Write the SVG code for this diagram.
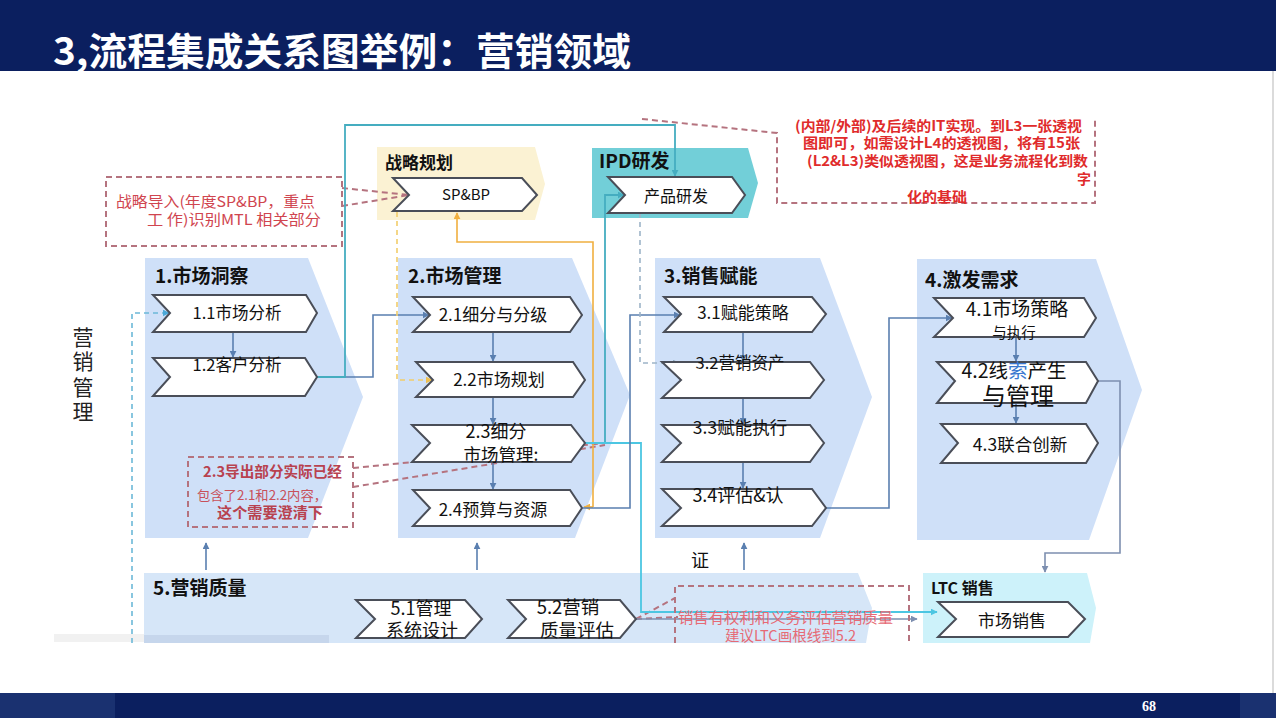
<svg xmlns="http://www.w3.org/2000/svg" width="1276" height="718" viewBox="0 0 1276 718">
<style>
text{font-family:"Noto Sans CJK SC","Liberation Sans",sans-serif}
.chev{fill:#fff;stroke:#4a4e58;stroke-width:2;stroke-linejoin:miter}
.sec{fill:#cfe0f8}
.h{font-weight:700;font-size:19px;fill:#111}
.n{font-size:17px;fill:#111;text-anchor:middle}
.bl{stroke:#5a7fb0;stroke-width:1.6;fill:none}
.teal{stroke:#45adc0;stroke-width:1.8;fill:none}
.cyan{stroke:#4cc6e2;stroke-width:1.8;fill:none}
.org{stroke:#f0b040;stroke-width:1.6;fill:none}
.ylw{stroke:#f2cd6a;stroke-width:1.6;fill:none;stroke-dasharray:5 4}
.gd{stroke:#9db4c8;stroke-width:1.6;fill:none;stroke-dasharray:5 4}
.ld{stroke:#6cb8d8;stroke-width:1.6;fill:none;stroke-dasharray:5 4}
.rd{stroke:#b5737f;stroke-width:2;fill:none;stroke-dasharray:6 4}
.r1{fill:#e02b2b;font-weight:700;font-size:14px}
.r2{fill:#d0454f;font-size:14.5px}
.r3{fill:#b8424f;font-size:14.5px}
.r4{fill:#e66a75;font-size:14.5px}
</style>
<defs>
<marker id="aB" viewBox="0 0 10 10" refX="9" refY="5" markerWidth="7" markerHeight="7" markerUnits="userSpaceOnUse" orient="auto"><path d="M0,0 L10,5 L0,10 z" fill="#5a7fb0"/></marker>
<marker id="aT" viewBox="0 0 10 10" refX="9" refY="5" markerWidth="7" markerHeight="7" markerUnits="userSpaceOnUse" orient="auto"><path d="M0,0 L10,5 L0,10 z" fill="#45adc0"/></marker>
<marker id="aC" viewBox="0 0 10 10" refX="9" refY="5" markerWidth="7" markerHeight="7" markerUnits="userSpaceOnUse" orient="auto"><path d="M0,0 L10,5 L0,10 z" fill="#4cc6e2"/></marker>
<marker id="aO" viewBox="0 0 10 10" refX="9" refY="5" markerWidth="7" markerHeight="7" markerUnits="userSpaceOnUse" orient="auto"><path d="M0,0 L10,5 L0,10 z" fill="#f0b040"/></marker>
<marker id="aY" viewBox="0 0 10 10" refX="9" refY="5" markerWidth="7" markerHeight="7" markerUnits="userSpaceOnUse" orient="auto"><path d="M0,0 L10,5 L0,10 z" fill="#f0c050"/></marker>
<marker id="aG" viewBox="0 0 10 10" refX="9" refY="5" markerWidth="7" markerHeight="7" markerUnits="userSpaceOnUse" orient="auto"><path d="M0,0 L10,5 L0,10 z" fill="#8fa8c0"/></marker>
<marker id="aL" viewBox="0 0 10 10" refX="9" refY="5" markerWidth="7" markerHeight="7" markerUnits="userSpaceOnUse" orient="auto"><path d="M0,0 L10,5 L0,10 z" fill="#4aa8d8"/></marker>
<marker id="aS" viewBox="0 0 10 10" refX="9" refY="5" markerWidth="7" markerHeight="7" markerUnits="userSpaceOnUse" orient="auto"><path d="M0,0 L10,5 L0,10 z" fill="#7d8fb0"/></marker>
</defs>

<rect x="0" y="0" width="1276" height="718" fill="#fff"/>

<g id="frame">
<rect x="0" y="0" width="1276" height="71" fill="#0b1f5f"/>
<text x="53" y="65" font-size="38" font-weight="700" fill="#fff" textLength="578" lengthAdjust="spacingAndGlyphs">3,流程集成关系图举例：营销领域</text>
<line x1="1273" y1="71" x2="1273" y2="693" stroke="#cfcfcf" stroke-width="1.5"/>
<rect x="54" y="634" width="91" height="8" fill="#f1f1f1"/>
<rect x="0" y="693" width="1276" height="25" fill="#0b1f5f"/>
<rect x="0" y="693" width="115" height="25" fill="#1a3170"/>
<rect x="1240" y="693" width="36" height="25" fill="#1a3170"/>
<text x="1149" y="711" style="font-family:'Liberation Serif',serif" font-size="14" font-weight="700" fill="#fff" text-anchor="middle">68</text>
</g>

<g id="bg-strategy"><polygon points="377,147 535,147 545,184 535,220 377,220" fill="#fbf2d3"/><text class="h" x="385" y="169" style="font-size:17px">战略规划</text></g>
<g id="bg-ipd"><polygon points="592,148 748,148 758,183 748,218 592,218" fill="#72cfd8"/><text class="h" x="599" y="168">IPD研发</text></g>
<g id="bg-1"><polygon class="sec" points="145,258 308,258 363,397 308,538 145,538"/><text class="h" x="155" y="283">1.市场洞察</text></g>
<g id="bg-2"><polygon class="sec" points="398,258 572,258 630,395 575,538 398,538"/><text class="h" x="408" y="283">2.市场管理</text></g>
<g id="bg-3"><polygon class="sec" points="655,258 820,258 872,397 820,538 655,538"/><text class="h" x="664" y="283">3.销售赋能</text></g>
<g id="bg-4"><polygon class="sec" points="917,259 1096,259 1142,390 1089,540 917,540"/><text class="h" x="925" y="287">4.激发需求</text></g>
<g id="bg-5"><polygon points="144,573 858,573 872,608 866,643 144,643" fill="#d6e6f8"/><rect x="144" y="635" width="185" height="8" fill="#c6d6ec"/><text class="h" x="153" y="595">5.营销质量</text></g>
<g id="bg-ltc"><polygon points="923,573 1087,573 1096,608 1090,643 923,643" fill="#cdf2fa"/><text class="h" x="931" y="594" style="font-size:16px">LTC 销售</text></g>

<g id="side-label" fill="#222">
<text x="83" y="345" font-size="21" text-anchor="middle">营</text>
<text x="83" y="369" font-size="21" text-anchor="middle">销</text>
<text x="83" y="395" font-size="21" text-anchor="middle">管</text>
<text x="83" y="419" font-size="21" text-anchor="middle">理</text>
</g>

<g id="connectors">
<path class="rd" d="M353,468 L605,443"/>
<path class="rd" d="M353,487 L605,445"/>
<path class="rd" d="M342,188 L409,195"/>
<path class="rd" d="M342,206 L409,195"/>
<path class="rd" d="M636,619 L675,598"/>
<path class="rd" d="M636,619 L678,617"/>
<path class="bl" d="M233,332 V357" marker-end="url(#aB)"/>
<path class="bl" d="M317,377 H373 V315 H429" marker-end="url(#aB)"/>
<path class="teal" d="M317,377 H345 V125 H675 V176" marker-end="url(#aT)"/>
<path class="ld" d="M132,643 V313 H169" marker-end="url(#aL)"/>
<path class="bl" d="M493,332 V361" marker-end="url(#aB)"/>
<path class="bl" d="M493,397 V424" marker-end="url(#aB)"/>
<path class="bl" d="M493,462 V489" marker-end="url(#aB)"/>
<path class="ylw" d="M397,212 V380 H432" marker-end="url(#aY)"/>
<path class="org" d="M593,507 V242 H457 V213" marker-end="url(#aO)"/>
<path class="org" d="M593,507 H584" marker-end="url(#aO)"/>
<path class="teal" d="M585,443 H605 V195 H624" marker-end="url(#aT)"/>
<path class="cyan" d="M585,443 H641 V612 H937" marker-end="url(#aC)"/>
<path class="bl" d="M583,508 H630 V315 H680" marker-end="url(#aB)"/>
<path class="gd" d="M640,213 V363 H679" marker-end="url(#aG)"/>
<path class="bl" d="M743,332 V361" marker-end="url(#aB)"/>
<path class="bl" d="M743,398 V424" marker-end="url(#aB)"/>
<path class="bl" d="M743,462 V488" marker-end="url(#aB)"/>
<path class="bl" d="M826,508 H889 V318 H952" marker-end="url(#aB)"/>
<path class="bl" d="M1016,337 V361" marker-end="url(#aB)"/>
<path class="bl" d="M1016,403 V423" marker-end="url(#aB)"/>
<path stroke="#7d8fb0" stroke-width="1.6" fill="none" d="M1098,381 H1120 V553 H1045 V572" marker-end="url(#aS)"/>
<path class="bl" d="M206,570 V543" marker-end="url(#aB)"/>
<path class="bl" d="M477,570 V543" marker-end="url(#aB)"/>
<path class="bl" d="M744,570 V543" marker-end="url(#aB)"/>
<path stroke="#7d8fb0" stroke-width="1.6" fill="none" d="M636,619 H917" marker-end="url(#aS)"/>
</g>

<g id="n-spbp"><polygon class="chev" points="393,178 522,178 537,195 522,211 393,211 409,195"/><text class="n" x="466" y="200" style="font-size:15px">SP&amp;BP</text></g>
<g id="n-prd"><polygon class="chev" points="608,177 732,177 745,195 732,213 608,213 625,195"/><text class="n" x="676" y="202" style="font-size:16px">产品研发</text></g>
<g id="n-1-1"><polygon class="chev" points="153,295 306,295 317,313 306,332 153,332 170,313"/><text class="n" x="237" y="319" style="font-size:16.5px">1.1市场分析</text></g>
<g id="n-1-2"><polygon class="chev" points="153,358 305,358 317,377 305,396 153,396 170,377"/><text class="n" x="237" y="371" style="font-size:16.5px">1.2客户分析</text></g>
<g id="n-2-1"><polygon class="chev" points="413,297 570,297 582,315 570,332 413,332 430,315"/><text class="n" x="493" y="321">2.1细分与分级</text></g>
<g id="n-2-2"><polygon class="chev" points="416,362 573,362 585,380 573,397 416,397 433,380"/><text class="n" x="499" y="386">2.2市场规划</text></g>
<g id="n-2-3"><polygon class="chev" points="412,425 571,425 585,443 571,462 412,462 430,443"/><text class="n" x="496" y="438" style="font-size:18px">2.3细分</text><text class="n" x="501" y="461" style="font-size:17.5px">市场管理:</text></g>
<g id="n-2-4"><polygon class="chev" points="413,490 570,490 582,508 570,526 413,526 430,508"/><text class="n" x="493" y="516">2.4预算与资源</text></g>
<g id="n-3-1"><polygon class="chev" points="664,297 812,297 826,314 812,332 664,332 681,314"/><text class="n" x="743" y="319">3.1赋能策略</text></g>
<g id="n-3-2"><polygon class="chev" points="662,362 810,362 824,380 810,398 662,398 681,380"/><text class="n" x="740" y="369" style="font-size:16.5px">3.2营销资产</text></g>
<g id="n-3-3"><polygon class="chev" points="662,425 810,425 824,443 810,462 662,462 681,443"/><text class="n" x="740" y="434" style="font-size:17.5px">3.3赋能执行</text></g>
<g id="n-3-4"><polygon class="chev" points="662,489 812,489 826,508 812,526 662,526 681,508"/><text class="n" x="738" y="502" style="font-size:18px">3.4评估&amp;认</text></g>
<g id="n-4-1"><polygon class="chev" points="934,298 1084,298 1096,318 1084,337 934,337 953,318"/><text class="n" x="1017" y="316" style="font-size:19px">4.1市场策略</text><text class="n" x="1014" y="338" style="font-size:14.5px">与执行</text></g>
<g id="n-4-2"><polygon class="chev" points="937,362 1086,362 1098,381 1086,403 937,403 955,381"/><text class="n" x="1014" y="378" style="font-size:19.5px">4.2线<tspan fill="#3a78d0">索</tspan>产生</text><text class="n" x="1018" y="405" style="font-size:24px">与管理</text></g>
<g id="n-4-3"><polygon class="chev" points="941,424 1086,424 1098,443 1086,463 941,463 958,443"/><text class="n" x="1020" y="451" style="font-size:17.5px">4.3联合创新</text></g>
<g id="n-5-1"><polygon class="chev" points="356,600 465,600 482,619 465,638 356,638 375,619"/><text class="n" x="421" y="615" style="font-size:18px">5.1管理</text><text class="n" x="422" y="637" style="font-size:18px">系统设计</text></g>
<g id="n-5-2"><polygon class="chev" points="508,600 620,600 636,619 620,638 508,638 526,619"/><text class="n" x="568" y="614" style="font-size:18.5px">5.2营销</text><text class="n" x="577" y="637" style="font-size:18.5px">质量评估</text></g>
<g id="n-ltc"><polygon class="chev" points="938,602 1068,602 1085,619 1068,637 938,637 956,619"/><text class="n" x="1012" y="627">市场销售</text></g>
<g id="n-zheng"><text class="n" x="700" y="567" style="font-size:18px">证</text></g>

<g id="note-strategy">
<rect class="rd" x="106" y="177" width="236" height="69"/>
<text class="r2" x="116" y="207" textLength="199" lengthAdjust="spacingAndGlyphs">战略导入(年度SP&amp;BP，重点</text>
<text class="r2" x="147" y="225" textLength="174" lengthAdjust="spacingAndGlyphs">工 作)识别MTL 相关部分</text>
</g>
<g id="note-23">
<rect class="rd" x="188" y="457" width="165" height="70"/>
<text class="r3" x="203" y="477" font-weight="700" textLength="139" lengthAdjust="spacingAndGlyphs">2.3导出部分实际已经</text>
<text class="r3" x="197" y="500" style="font-size:13px;fill:#c8505a" textLength="130" lengthAdjust="spacingAndGlyphs">包含了2.1和2.2内容，</text>
<text class="r3" x="217" y="518" font-weight="700" textLength="106" lengthAdjust="spacingAndGlyphs">这个需要澄清下</text>
</g>
<g id="note-it">
<path class="rd" d="M642,119 L777,133 V203 H1095 V120"/>
<text class="r1" x="795" y="131" textLength="287" lengthAdjust="spacingAndGlyphs">(内部/外部)及后续的IT实现。到L3一张透视</text>
<text class="r1" x="803" y="148" textLength="277" lengthAdjust="spacingAndGlyphs">图即可，如需设计L4的透视图，将有15张</text>
<text class="r1" x="807" y="166" textLength="281" lengthAdjust="spacingAndGlyphs">(L2&amp;L3)类似透视图，这是业务流程化到数</text>
<text class="r1" x="1077" y="184">字</text>
<text class="r1" x="907" y="202" textLength="60" lengthAdjust="spacingAndGlyphs">化的基础</text>
</g>
<g id="note-ltc">
<path class="rd" d="M675,643 V586 H909 V643"/>
<text class="r4" x="678" y="623" textLength="215" lengthAdjust="spacingAndGlyphs">销售有权利和义务评估营销质量</text>
<text class="r4" x="725" y="641" textLength="131" lengthAdjust="spacingAndGlyphs">建议LTC画根线到5.2</text>
</g>
</svg>
